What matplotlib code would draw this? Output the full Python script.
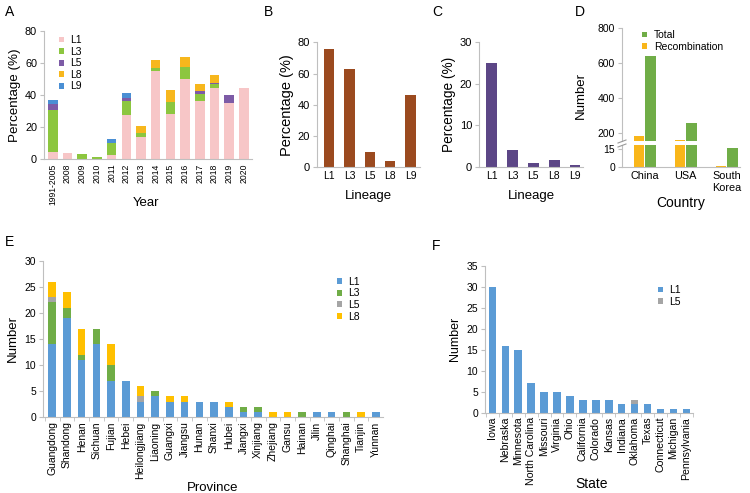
import numpy as np
import matplotlib.pyplot as plt
from matplotlib.lines import Line2D
from matplotlib.ticker import FixedLocator

plt.rcParams['font.family'] = ['Liberation Sans', 'DejaVu Sans']

# ---- Panel A: percentage by year ----
years = ['1991-2005', '2008', '2009', '2010', '2011', '2012', '2013', '2014',
         '2015', '2016', '2017', '2018', '2019', '2020']
a_l1 = [4.5, 4.1, 0, 0, 2.7, 27.8, 14.0, 55.0, 28.2, 50.0, 36.5, 44.1, 34.8, 44.5]
a_l3 = [26.0, 0, 3.1, 1.7, 7.3, 8.7, 2.6, 1.7, 7.7, 7.2, 4.1, 2.7, 0, 0]
a_l5 = [4.0, 0, 0, 0, 0, 1.4, 0, 0, 0, 0, 1.9, 0.9, 5.2, 0]
a_l8 = [0, 0, 0, 0, 0, 0, 4.3, 5.0, 7.2, 6.2, 4.3, 4.7, 0, 0]
a_l9 = [2.5, 0, 0, 0, 2.5, 3.6, 0, 0, 0, 0, 0, 0, 0, 0]

# ---- Panels B, C ----
lineages = ['L1', 'L3', 'L5', 'L8', 'L9']
b_vals = [75.7, 62.9, 10.0, 4.3, 46.3]
c_vals = [25.0, 4.1, 1.0, 1.8, 0.6]

# ---- Panel D ----
countries = ['China', 'USA', 'South\nKorea']
d_recomb = [183, 158, 1.4]
d_total = [642, 254, 16]

# ---- Panel E: provinces ----
provinces = ['Guangdong', 'Shandong', 'Henan', 'Sichuan', 'Fujian', 'Hebei',
             'Heilongjiang', 'Liaoning', 'Guangxi', 'Jiangsu', 'Hunan', 'Shanxi',
             'Hubei', 'Jiangxi', 'Xinjiang', 'Zhejiang', 'Gansu', 'Hainan', 'Jilin',
             'Qinghai', 'Shanghai', 'Tianjin', 'Yunnan']
e_l1 = [14, 19, 11, 14, 7, 7, 3, 4, 3, 3, 3, 3, 2, 1, 1, 0, 0, 0, 1, 1, 0, 0, 1]
e_l3 = [8, 2, 1, 3, 3, 0, 0, 1, 0, 0, 0, 0, 0, 1, 1, 0, 0, 1, 0, 0, 1, 0, 0]
e_l5 = [1, 0, 0, 0, 0, 0, 1, 0, 0, 0, 0, 0, 0, 0, 0, 0, 0, 0, 0, 0, 0, 0, 0]
e_l8 = [3, 3, 5, 0, 4, 0, 2, 0, 1, 1, 0, 0, 1, 0, 0, 1, 1, 0, 0, 0, 0, 1, 0]

# ---- Panel F: US states ----
states = ['Iowa', 'Nebraska', 'Minnesota', 'North Carolina', 'Missouri', 'Virginia',
          'Ohio', 'California', 'Colorado', 'Kansas', 'Indiana', 'Oklahoma', 'Texas',
          'Connecticut', 'Michigan', 'Pennsylvania']
f_l1 = [30, 16, 15, 7, 5, 5, 4, 3, 3, 3, 2, 2, 2, 1, 1, 1]
f_l5 = [0, 0, 0, 0, 0, 0, 0, 0, 0, 0, 0, 1, 0, 0, 0, 0]

W, H = 750, 493
fig = plt.figure(figsize=(W / 100, H / 100), dpi=100)
GRAY = '#BFBFBF'


def ax_at(l, t, r, b):
    return fig.add_axes([l / W, 1 - b / H, (r - l) / W, (b - t) / H])


def style(ax, n, yfs=7.8, xfs=7.5, minor=True):
    for s in ['top', 'right']:
        ax.spines[s].set_visible(False)
    for s in ['left', 'bottom']:
        ax.spines[s].set_color(GRAY)
    ax.tick_params(axis='y', length=3, color=GRAY, labelsize=yfs, pad=2)
    ax.tick_params(axis='x', which='major', length=0, labelsize=xfs, pad=3)
    if minor:
        ax.xaxis.set_minor_locator(FixedLocator(np.arange(n + 1) - 0.5))
        ax.tick_params(axis='x', which='minor', length=3, color=GRAY)


def stack(ax, cats, series, colors, labels, width):
    x = np.arange(len(cats))
    bottom = np.zeros(len(cats))
    for vals, c, lab in zip(series, colors, labels):
        ax.bar(x, vals, width, bottom=bottom, color=c, label=lab)
        bottom += np.array(vals)
    return x


def legend_at(ax, px, py, handles=None, labels=None, fs=7.5):
    if handles is None:
        handles, labels = ax.get_legend_handles_labels()
    ax.legend(handles, labels, loc='upper left', bbox_to_anchor=(px / W, 1 - py / H),
              bbox_transform=fig.transFigure, frameon=False, fontsize=fs, borderpad=0,
              handlelength=0.5, handleheight=0.5, handletextpad=0.6, labelspacing=0.15)


# A
axA = ax_at(44, 30.7, 252, 159.3)
x = stack(axA, years, [a_l1, a_l3, a_l5, a_l8, a_l9],
          ['#F7C6C7', '#8CC63F', '#7D5BA6', '#F7B71D', '#4A8FD4'],
          ['L1', 'L3', 'L5', 'L8', 'L9'], 0.65)
axA.set_xlim(-0.6, 13.55)
axA.set_ylim(0, 80)
axA.set_yticks([0, 20, 40, 60, 80])
axA.set_xticks(x)
axA.set_xticklabels(years, rotation=90)
style(axA, len(years), xfs=6.2, minor=False)
axA.set_ylabel('Percentage (%)', fontsize=9.6, labelpad=3)
axA.set_xlabel('Year', fontsize=9.5)
axA.xaxis.set_label_coords(0.488, -0.291)
legend_at(axA, 53.5, 30)

# B
axB = ax_at(317, 42.3, 420, 167.3)
axB.bar(np.arange(5), b_vals, 0.5, color='#9B4A1F')
axB.set_xlim(-0.6, 4.47)
axB.set_ylim(0, 80)
axB.set_yticks([0, 20, 40, 60, 80])
axB.set_xticks(np.arange(5))
axB.set_xticklabels(lineages)
style(axB, 5, yfs=8, minor=False)
axB.set_ylabel('Percentage (%)', fontsize=10.5, labelpad=3)
axB.set_xlabel('Lineage', fontsize=9.5, labelpad=6)

# C
axC = ax_at(479, 41.7, 583, 167.3)
axC.bar(np.arange(5), c_vals, 0.52, color='#5C4686')
axC.set_xlim(-0.6, 4.38)
axC.set_ylim(0, 30)
axC.set_yticks([0, 10, 20, 30])
axC.set_xticks(np.arange(5))
axC.set_xticklabels(lineages)
style(axC, 5, yfs=8, minor=False)
axC.set_ylabel('Percentage (%)', fontsize=9.8, labelpad=3)
axC.set_xlabel('Lineage', fontsize=9.5, labelpad=6)

# D (broken axis)
axDu = ax_at(622, 28.3, 740, 141)
axDl = ax_at(622, 145, 740, 167.3)
xd = np.arange(3)
for axd in (axDu, axDl):
    axd.bar(xd - 0.14, d_recomb, 0.25, color='#F9B61A', label='Recombination')
    axd.bar(xd + 0.14, d_total, 0.25, color='#70AD47', label='Total')
    axd.set_xlim(-0.55, 2.32)
    style(axd, 3, yfs=7.5, minor=False)
axDu.set_ylim(152, 800)
axDu.set_yticks([200, 400, 600, 800])
axDu.spines['bottom'].set_visible(False)
axDu.set_xticks([])
axDl.set_ylim(0, 18.6)
axDl.set_yticks([0, 15])
axDl.set_xticks(xd)
axDl.set_xticklabels(countries, fontsize=7.8)
axDl.set_xlabel('Country', fontsize=10, labelpad=2)
axDu.set_ylabel('Number', fontsize=9.5)
axDu.yaxis.set_label_coords(-0.3, 0.4)
h, l = axDu.get_legend_handles_labels()
legend_at(axDu, 637, 25, h[::-1], l[::-1])
# break marks on the y axis
for yb in (141.5, 145.5):
    fig.add_artist(Line2D([618 / W, 626 / W], [1 - (yb + 1.5) / H, 1 - (yb - 1.5) / H],
                          color='#999999', lw=0.8))

# E
axE = ax_at(43, 260.7, 383, 417.3)
xe = stack(axE, provinces, [e_l1, e_l3, e_l5, e_l8],
           ['#5B9BD5', '#70AD47', '#A5A5A5', '#FFC000'],
           ['L1', 'L3', 'L5', 'L8'], 0.52)
axE.set_xlim(-0.63, 22.49)
axE.set_ylim(0, 30)
axE.set_yticks(range(0, 31, 5))
axE.set_xticks(xe)
axE.set_xticklabels(provinces, rotation=90)
style(axE, len(provinces), yfs=7.5, xfs=7.5)
axE.set_ylabel('Number', fontsize=9.5, labelpad=4)
axE.set_xlabel('Province', fontsize=9.5)
axE.xaxis.set_label_coords(0.498, -0.413)
legend_at(axE, 331.5, 271.7)

# F
axF = ax_at(485, 266, 693, 412.7)
xf = stack(axF, states, [f_l1, f_l5], ['#5B9BD5', '#A5A5A5'], ['L1', 'L5'], 0.57)
axF.set_xlim(-0.56, 15.5)
axF.set_ylim(0, 35)
axF.set_yticks(range(0, 36, 5))
axF.set_xticks(xf)
axF.set_xticklabels(states, rotation=90)
style(axF, len(states), yfs=7.5, xfs=7.6)
axF.set_ylabel('Number', fontsize=9, labelpad=4)
axF.set_xlabel('State', fontsize=10)
axF.xaxis.set_label_coords(0.51, -0.438)
legend_at(axF, 652.5, 280)

# panel letters
for letter, px, py in [('A', 5, 12), ('B', 264, 12), ('C', 432, 12), ('D', 575, 12),
                       ('E', 5, 242), ('F', 432, 246)]:
    fig.text(px / W, 1 - py / H, letter, fontsize=10, va='center', ha='left')

fig.savefig('out.png', dpi=100)
